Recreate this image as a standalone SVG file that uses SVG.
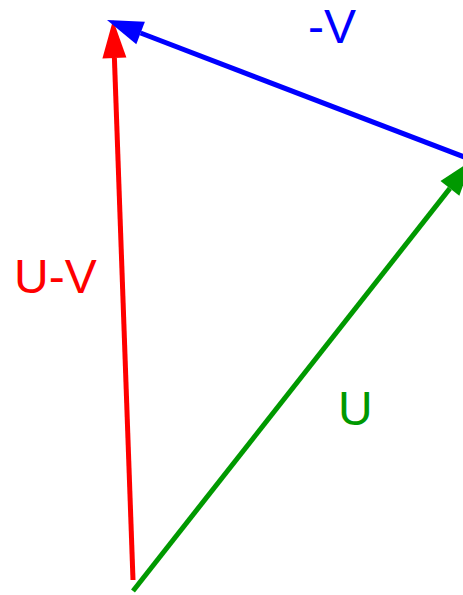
<svg xmlns="http://www.w3.org/2000/svg" width="463" height="595" viewBox="0 0 463 595">
<style>
.lbl{font-family:"Liberation Sans",Arial,sans-serif;font-size:48px}
.shaft{stroke-width:5;fill:none}
</style>
<defs>
<marker id="hr" markerUnits="userSpaceOnUse" markerWidth="40" markerHeight="26" refX="0" refY="13" viewBox="0 0 40 26" orient="auto" overflow="visible"><path d="M0,1 L38,13 L0,25 z" fill="#ff0000"/></marker>
<marker id="hb" markerUnits="userSpaceOnUse" markerWidth="40" markerHeight="26" refX="0" refY="13" viewBox="0 0 40 26" orient="auto" overflow="visible"><path d="M0,1 L36,13 L0,25 z" fill="#0000ff"/></marker>
<marker id="hg" markerUnits="userSpaceOnUse" markerWidth="40" markerHeight="26" refX="0" refY="13" viewBox="0 0 40 26" orient="auto" overflow="visible"><path d="M0,1 L36,13 L0,25 z" fill="#009900"/></marker>
</defs>
<g id="connectors">
<line class="shaft" x1="133" y1="580" x2="114.4" y2="58" stroke="#ff0000" marker-end="url(#hr)"/>
<line class="shaft" x1="472" y1="160" x2="140.6" y2="33" stroke="#0000ff" marker-end="url(#hb)"/>
<line class="shaft" x1="133" y1="591" x2="449.9" y2="188.4" stroke="#009900" marker-end="url(#hg)"/>
</g>
<g id="label-minus-v"><text class="lbl" x="308" y="43" fill="#0000ff">-V</text></g>
<g id="label-u-minus-v"><text class="lbl" x="14" y="293" fill="#ff0000">U-V</text></g>
<g id="label-u"><text class="lbl" x="338" y="425" fill="#009900">U</text></g>
</svg>
